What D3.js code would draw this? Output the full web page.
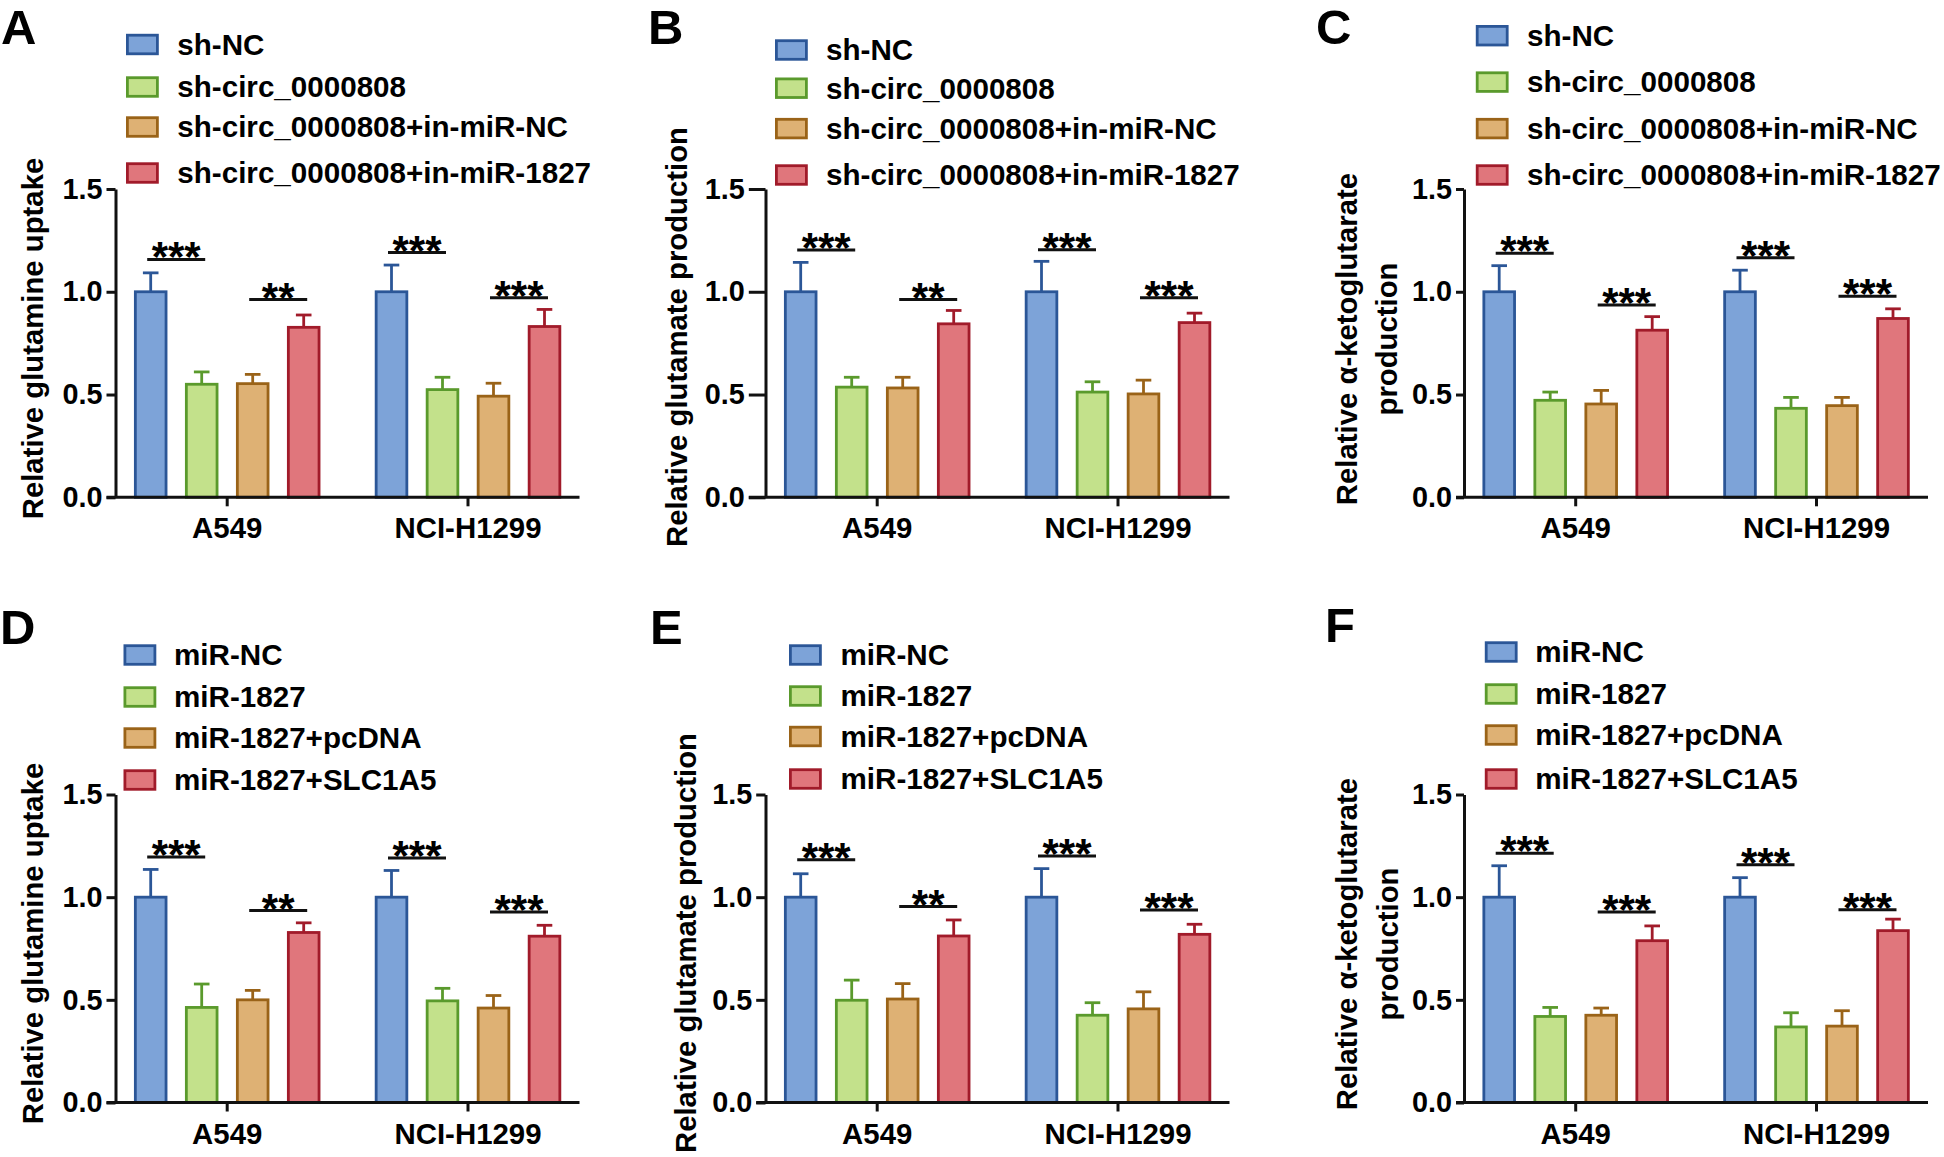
<!DOCTYPE html>
<html><head><meta charset="utf-8">
<script src="https://cdn.jsdelivr.net/npm/d3@7"></script>
<style>
body{margin:0;background:#fff}
svg{display:block}
text{font-family:"Liberation Sans",Arial,Helvetica,sans-serif;font-weight:bold;fill:#000}
</style>
</head><body>
<svg id="chart" width="1944" height="1157"></svg>
<script>
// ---------- data ----------
const groups = ["A549", "NCI-H1299"];
const seriesTop = ["sh-NC", "sh-circ_0000808", "sh-circ_0000808+in-miR-NC", "sh-circ_0000808+in-miR-1827"];
const seriesBottom = ["miR-NC", "miR-1827", "miR-1827+pcDNA", "miR-1827+SLC1A5"];
const fillColors = ["#7DA3D8", "#C3E18B", "#DEB174", "#E0767C"];
const strokeColors = ["#2B5697", "#5A9A2C", "#9A6318", "#A11B2A"];
const yTicks = [0, 0.5, 1.0, 1.5];
const panelLetters = ["A", "B", "C", "D", "E", "F"];
const titleGlutamine = ["Relative glutamine uptake"];
const titleGlutamate = ["Relative glutamate production"];
const titleKeto = ["Relative α-ketoglutarate", "production"];

// means [group][series], errors (upper only)
const meansA = [[1.0, 0.55, 0.553, 0.827], [1.0, 0.524, 0.492, 0.831]];
const errA   = [[0.092, 0.06, 0.045, 0.06], [0.13, 0.06, 0.063, 0.083]];
const sigA   = [[1.157, 0.962], [1.191, 0.971]];
const sigLabA = [["***", "**"], ["***", "***"]];

const meansB = [[1.0, 0.536, 0.532, 0.844], [1.0, 0.512, 0.503, 0.85]];
const errB   = [[0.143, 0.048, 0.052, 0.065], [0.148, 0.05, 0.067, 0.046]];
const sigB   = [[1.203, 0.962], [1.205, 0.971]];
const sigLabB = [["***", "**"], ["***", "***"]];

const meansC = [[1.0, 0.472, 0.454, 0.813], [1.0, 0.433, 0.446, 0.87]];
const errC   = [[0.127, 0.04, 0.066, 0.066], [0.105, 0.053, 0.04, 0.047]];
const sigC   = [[1.188, 0.936], [1.165, 0.978]];
const sigLabC = [["***", "***"], ["***", "***"]];

const meansD = [[1.0, 0.463, 0.5, 0.828], [1.0, 0.495, 0.46, 0.81]];
const errD   = [[0.135, 0.114, 0.046, 0.047], [0.13, 0.061, 0.061, 0.053]];
const sigD   = [[1.196, 0.935], [1.191, 0.928]];
const sigLabD = [["***", "**"], ["***", "***"]];

const meansE = [[1.0, 0.498, 0.504, 0.811], [1.0, 0.425, 0.456, 0.819]];
const errE   = [[0.114, 0.098, 0.075, 0.078], [0.139, 0.061, 0.083, 0.049]];
const sigE   = [[1.182, 0.954], [1.2, 0.937]];
const sigLabE = [["***", "**"], ["***", "***"]];

const meansF = [[1.0, 0.419, 0.425, 0.788], [1.0, 0.368, 0.372, 0.837]];
const errF   = [[0.153, 0.044, 0.035, 0.072], [0.095, 0.069, 0.075, 0.056]];
const sigF   = [[1.214, 0.928], [1.158, 0.939]];
const sigLabF = [["***", "***"], ["***", "***"]];

// ---------- panel assembly ----------
const panels = [
  {letter: panelLetters[0], series: seriesTop, title: titleGlutamine, means: meansA, err: errA, sig: sigA, sigLab: sigLabA},
  {letter: panelLetters[1], series: seriesTop, title: titleGlutamate, means: meansB, err: errB, sig: sigB, sigLab: sigLabB},
  {letter: panelLetters[2], series: seriesTop, title: titleKeto, means: meansC, err: errC, sig: sigC, sigLab: sigLabC},
  {letter: panelLetters[3], series: seriesBottom, title: titleGlutamine, means: meansD, err: errD, sig: sigD, sigLab: sigLabD},
  {letter: panelLetters[4], series: seriesBottom, title: titleGlutamate, means: meansE, err: errE, sig: sigE, sigLab: sigLabE},
  {letter: panelLetters[5], series: seriesBottom, title: titleKeto, means: meansF, err: errF, sig: sigF, sigLab: sigLabF}
];

// layout (pixel geometry per panel)
const layout = [
  {ax: 115.5, y0: 497.3, y15: 189,    tick: 9,    lx: 1,    ly: 43.5, legX: 10.5, legTX: 61.8, rows: [44.5, 87, 127, 173],    titleX: [-73],           titleY: 338.5},
  {ax: 765.5, y0: 497.3, y15: 189,    tick: 16.7, lx: 648,  ly: 43.5, legX: 9.5,  legTX: 60.5, rows: [50, 88.2, 128.6, 175],  titleX: [-79],           titleY: 337},
  {ax: 1464,  y0: 497.3, y15: 189,    tick: 8,    lx: 1316, ly: 43.5, legX: 11.8, legTX: 63,   rows: [35.7, 82.1, 128.6, 175], titleX: [-107.5, -67.5], titleY: 339},
  {ax: 115.5, y0: 1102.5, y15: 794.5, tick: 9,    lx: 0,    ly: 644,  legX: 8,    legTX: 58.5, rows: [655, 697, 738, 780],    titleX: [-73],           titleY: 943.5},
  {ax: 765.5, y0: 1102.5, y15: 794.5, tick: 9.3,  lx: 650,  ly: 644,  legX: 23.5, legTX: 75,   rows: [655, 696, 736.5, 779],  titleX: [-70],           titleY: 943},
  {ax: 1464,  y0: 1102.5, y15: 794.5, tick: 8,    lx: 1325, ly: 642,  legX: 20.8, legTX: 71.3, rows: [652, 694, 735, 779],    titleX: [-107, -66.5],   titleY: 944}
];

const svg = d3.select("#chart");

panels.forEach((p, pi) => {
  const L = layout[pi];
  const g = svg.append("g");

  const y = d3.scaleLinear().domain([0, 1.5]).range([L.y0, L.y15]);
  const x0 = d3.scaleBand().domain(groups).range([L.ax - 8.7, L.ax + 472.9]).padding(0);
  const x1 = d3.scaleBand().domain(d3.range(4)).range([-91.85, 91.85]).paddingInner(0.398).paddingOuter(0);
  const bw = x1.bandwidth();

  // panel letter
  g.append("text").attr("x", L.lx).attr("y", L.ly).attr("font-size", 49).text(p.letter);

  // legend
  p.series.forEach((s, i) => {
    const cy = L.rows[i];
    g.append("rect")
      .attr("x", L.ax + L.legX + 1.4).attr("y", cy - 9.3)
      .attr("width", 30).attr("height", 18.6)
      .attr("fill", fillColors[i]).attr("stroke", strokeColors[i]).attr("stroke-width", 2.8);
    g.append("text").attr("x", L.ax + L.legTX).attr("y", cy + 10.3)
      .attr("font-size", 29.6).text(s);
  });

  // bars
  groups.forEach((grp, gi) => {
    const gc = x0(grp) + x0.bandwidth() / 2;
    p.means[gi].forEach((v, si) => {
      const bx = gc + x1(si);
      const cx = bx + bw / 2;
      const e = p.err[gi][si];
      g.append("line").attr("x1", cx).attr("x2", cx).attr("y1", y(v)).attr("y2", y(v + e))
        .attr("stroke", strokeColors[si]).attr("stroke-width", 2.8);
      g.append("line").attr("x1", cx - 7.8).attr("x2", cx + 7.8).attr("y1", y(v + e)).attr("y2", y(v + e))
        .attr("stroke", strokeColors[si]).attr("stroke-width", 2.8);
      g.append("rect").attr("x", bx).attr("y", y(v)).attr("width", bw).attr("height", y(0) - y(v))
        .attr("fill", fillColors[si]).attr("stroke", strokeColors[si]).attr("stroke-width", 2.8);
    });
    // significance
    [[0, 1], [2, 3]].forEach((pair, k) => {
      const c1 = gc + x1(pair[0]) + bw / 2;
      const c2 = gc + x1(pair[1]) + bw / 2;
      const mid = (c1 + c2) / 2;
      const sy = y(p.sig[gi][k]);
      g.append("line").attr("x1", mid - 29).attr("x2", mid + 29).attr("y1", sy).attr("y2", sy)
        .attr("stroke", "#111").attr("stroke-width", 3);
      g.append("text").attr("x", mid).attr("y", sy + 12).attr("text-anchor", "middle")
        .attr("font-size", 42).text(p.sigLab[gi][k]);
    });
  });

  // y axis
  const yAxis = d3.axisLeft(y).tickValues(yTicks).tickSize(L.tick).tickSizeOuter(0)
    .tickPadding(4).tickFormat(d3.format(".1f"));
  const ya = g.append("g").attr("transform", `translate(${L.ax},0)`).call(yAxis)
    .attr("font-size", null).attr("font-family", null);
  ya.select(".domain").attr("stroke", "#111").attr("stroke-width", 3);
  ya.selectAll(".tick line").attr("stroke", "#111").attr("stroke-width", 3);
  ya.selectAll(".tick text").attr("font-size", 28.8).attr("fill", "#000");

  // x axis
  const xAxis = d3.axisBottom(x0).tickSize(9).tickSizeOuter(0);
  const xa = g.append("g").attr("transform", `translate(0,${L.y0})`).call(xAxis)
    .attr("font-size", null).attr("font-family", null);
  xa.select(".domain").remove();
  xa.selectAll(".tick line").attr("stroke", "#111").attr("stroke-width", 3);
  xa.selectAll(".tick text").attr("font-size", 29.4).attr("y", 41).attr("dy", 0).attr("fill", "#000");
  g.append("line").attr("x1", L.ax - L.tick).attr("x2", L.ax + 464).attr("y1", L.y0).attr("y2", L.y0)
    .attr("stroke", "#111").attr("stroke-width", 3);

  // y title
  p.title.forEach((t, ti) => {
    g.append("text")
      .attr("transform", `translate(${L.ax + L.titleX[ti]},${L.titleY}) rotate(-90)`)
      .attr("text-anchor", "middle").attr("font-size", 29.3).text(t);
  });
});
</script>
</body></html>
